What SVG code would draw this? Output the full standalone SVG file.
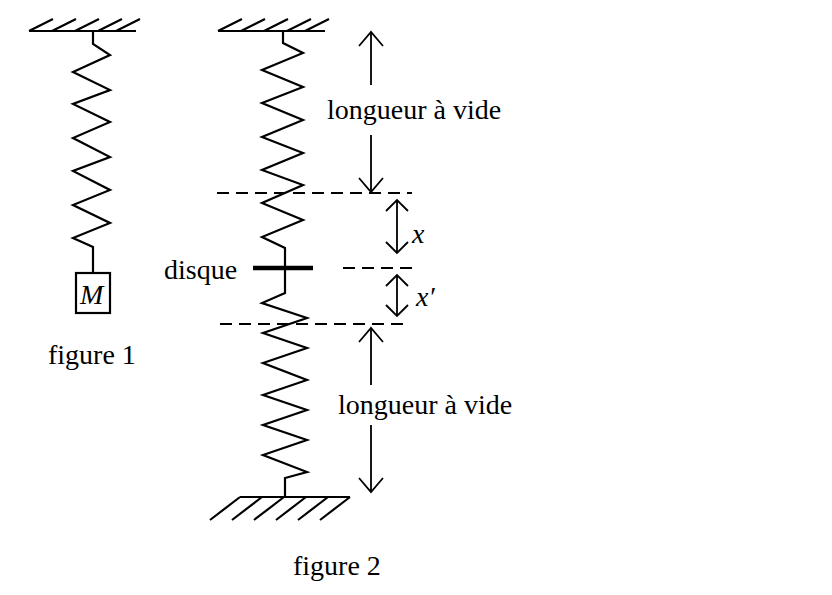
<svg xmlns="http://www.w3.org/2000/svg" width="832" height="595" viewBox="0 0 832 595">
<style>
.s{fill:none;stroke:#000;stroke-width:2.2;stroke-linejoin:miter}
.d{fill:none;stroke:#000;stroke-width:2.2;stroke-dasharray:12,7}
.a{fill:none;stroke:#000;stroke-width:1.8}
text{font-family:"Liberation Serif",serif;font-size:28px;fill:#000}
</style>
<rect width="832" height="595" fill="#fff"/>
<g id="fig1">
<path class="s" d="M29,31H136M29,31L53,19M52,31L76,19M75,31L99,19M98,31L122,19M116,31L140,19M93,31V44L110,55L73,72L110,90L73,104L110,122L73,138L110,157L73,171L110,190L73,205L110,223L73,238L93,247V273"/>
<rect x="76" y="273" width="34" height="40" class="s"/>
<text x="80" y="304" font-style="italic" font-size="26">M</text>
<text x="48" y="364">figure 1</text>
</g>
<g id="fig2">
<path class="s" d="M218,31H325M218,31L242,19M241,31L265,19M264,31L288,19M287,31L311,19M305,31L329,19M283,31V43L303,53L262,70L303,87L262,103L303,120L262,137L303,153L262,170L303,185L262,203L303,220L262,237L285,248V293L262,303L307,318L263,333L307,348L263,363L307,380L263,395L307,410L263,425L307,440L263,455L307,472L285,478V497"/>
<path class="s" d="M240,497H350M240,497L210,520M262,497L232,520M284,497L254,520M306,497L276,520M328,497L298,520M350,497L320,520"/>
<line x1="253" y1="268" x2="313" y2="268" stroke="#000" stroke-width="4.5"/>
<text x="164" y="279">disque</text>
<text x="293" y="575">figure 2</text>
</g>
<g id="connectors">
<line class="d" x1="217" y1="193" x2="412" y2="193"/>
<line class="d" x1="343" y1="268" x2="415" y2="268"/>
<line class="d" x1="220" y1="324" x2="405" y2="324"/>
<path class="a" d="M371,32V85M359,46L371,32L383,46M371,135V192M359,178L371,192L383,178"/>
<path class="a" d="M371,328V385M359,342L371,328L383,342M371,425V492M359,478L371,492L383,478"/>
<path class="a" d="M397,200V253M386,211L397,200L408,211M386,242L397,253L408,242"/>
<path class="a" d="M397,275V316M386,286L397,275L408,286M386,305L397,316L408,305"/>
</g>
<g id="labels">
<text x="327" y="119">longueur à vide</text>
<text x="338" y="414">longueur à vide</text>
<text x="412" y="243" font-style="italic">x</text>
<text x="416" y="306" font-style="italic">x′</text>
</g>
</svg>
